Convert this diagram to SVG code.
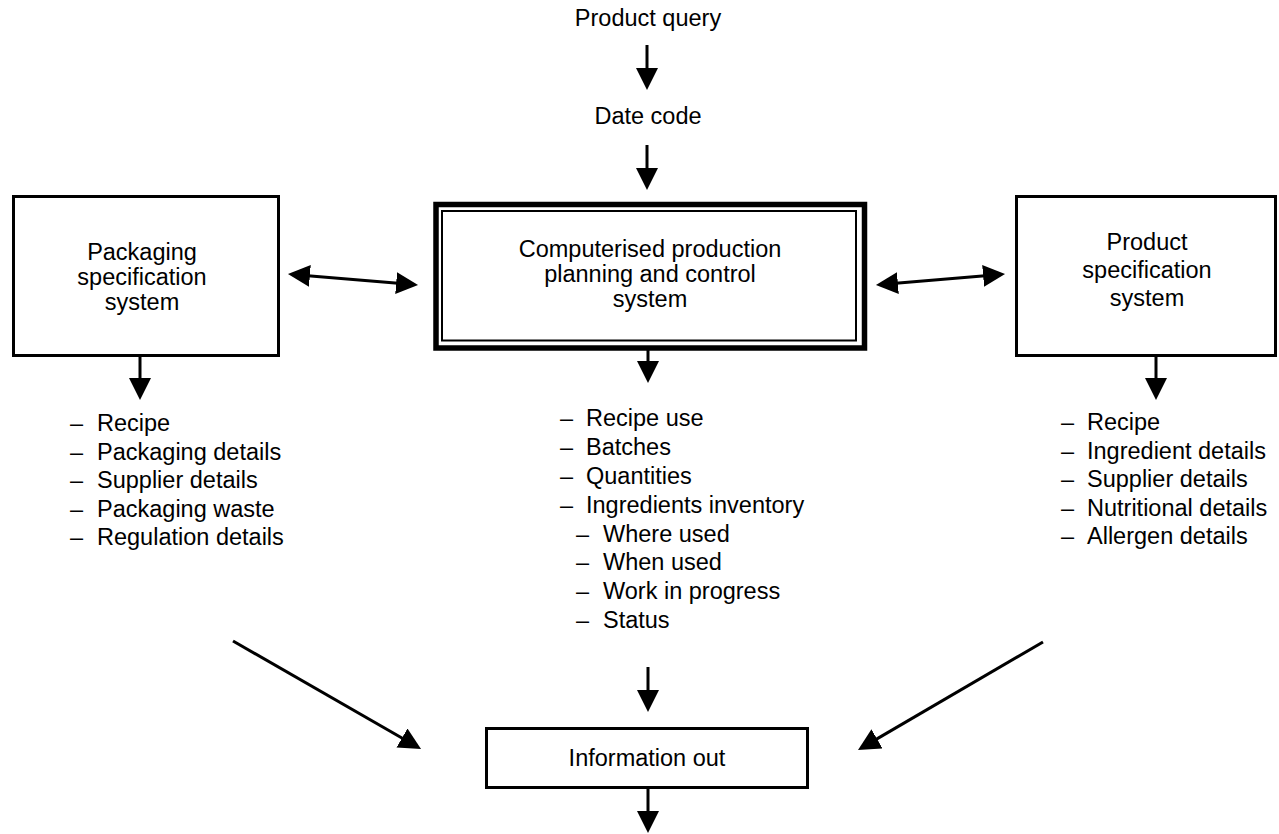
<svg xmlns="http://www.w3.org/2000/svg" width="1279" height="834" viewBox="0 0 1279 834">
  <defs>
    <marker id="head" viewBox="0 0 22 22" refX="8" refY="11" markerWidth="22" markerHeight="22" markerUnits="userSpaceOnUse" orient="auto-start-reverse">
      <path d="M0,0 L22,11 L0,22 Z" fill="#000"/>
    </marker>
    <style>
      text { font-family: "Liberation Sans", Arial, Helvetica, sans-serif; font-size: 23.5px; fill: #000; }
      .c { text-anchor: middle; }
      .box { fill: #fff; stroke: #000; stroke-width: 3; }
      .outer { fill: #fff; stroke: #000; stroke-width: 5.5; }
      .inner { fill: none; stroke: #000; stroke-width: 2; }
      .link { fill: none; stroke: #000; stroke-width: 3; marker-end: url(#head); }
      .both { marker-start: url(#head); }
    </style>
  </defs>
  <rect width="1279" height="834" fill="#fff"/>

  <!-- inputs at the top -->
  <g id="product-query">
    <text class="c" x="648" y="26">Product query</text>
  </g>
  <g id="date-code">
    <text class="c" x="648" y="124">Date code</text>
  </g>

  <!-- central system -->
  <g id="production-control">
    <rect class="outer" x="436" y="204.5" width="428.5" height="143.5"/>
    <rect class="inner" x="442" y="211" width="414" height="129.5"/>
    <text class="c" x="650" y="257">Computerised production</text>
    <text class="c" x="650" y="282">planning and control</text>
    <text class="c" x="650" y="307">system</text>
  </g>

  <g id="packaging-spec">
    <rect class="box" x="13.5" y="196.5" width="265" height="159"/>
    <text class="c" x="142" y="260">Packaging</text>
    <text class="c" x="142" y="285">specification</text>
    <text class="c" x="142" y="310">system</text>
  </g>

  <g id="product-spec">
    <rect class="box" x="1016.5" y="196.5" width="259" height="159"/>
    <text class="c" x="1147" y="250">Product</text>
    <text class="c" x="1147" y="278">specification</text>
    <text class="c" x="1147" y="306">system</text>
  </g>

  <!-- data held by each system -->
  <g id="packaging-list">
    <text x="70" y="431">–<tspan x="97">Recipe</tspan></text>
    <text x="70" y="460">–<tspan x="97">Packaging details</tspan></text>
    <text x="70" y="488">–<tspan x="97">Supplier details</tspan></text>
    <text x="70" y="517">–<tspan x="97">Packaging waste</tspan></text>
    <text x="70" y="545">–<tspan x="97">Regulation details</tspan></text>
  </g>

  <g id="production-list">
    <text x="560" y="426">–<tspan x="586">Recipe use</tspan></text>
    <text x="560" y="455">–<tspan x="586">Batches</tspan></text>
    <text x="560" y="484">–<tspan x="586">Quantities</tspan></text>
    <text x="560" y="513">–<tspan x="586">Ingredients inventory</tspan></text>
    <text x="576" y="542">–<tspan x="603">Where used</tspan></text>
    <text x="576" y="570">–<tspan x="603">When used</tspan></text>
    <text x="576" y="599">–<tspan x="603">Work in progress</tspan></text>
    <text x="576" y="628">–<tspan x="603">Status</tspan></text>
  </g>

  <g id="product-list">
    <text x="1061" y="430">–<tspan x="1087">Recipe</tspan></text>
    <text x="1061" y="459">–<tspan x="1087">Ingredient details</tspan></text>
    <text x="1061" y="487">–<tspan x="1087">Supplier details</tspan></text>
    <text x="1061" y="516">–<tspan x="1087">Nutritional details</tspan></text>
    <text x="1061" y="544">–<tspan x="1087">Allergen details</tspan></text>
  </g>

  <!-- output -->
  <g id="information-out">
    <rect class="box" x="486.5" y="728.5" width="321" height="59"/>
    <text class="c" x="647" y="766">Information out</text>
  </g>

  <!-- connectors -->
  <g id="connectors">
    <line class="link" x1="647" y1="45" x2="647" y2="76"/>
    <line class="link" x1="647" y1="145" x2="647" y2="176"/>
    <line class="link" x1="140" y1="357" x2="140" y2="386"/>
    <line class="link" x1="648" y1="350" x2="648" y2="369"/>
    <line class="link" x1="1156" y1="357" x2="1156" y2="386"/>
    <line class="link" x1="648" y1="667" x2="648" y2="698"/>
    <line class="link" x1="648" y1="789" x2="648" y2="819"/>
    <line class="link both" x1="301.9" y1="275.2" x2="404.1" y2="283.8"/>
    <line class="link both" x1="889.9" y1="283.8" x2="991.1" y2="275.2"/>
    <line class="link" stroke-width="3.5" x1="233" y1="641" x2="408.9" y2="742"/>
    <line class="link" stroke-width="3.5" x1="1043" y1="642" x2="870.1" y2="742.9"/>
  </g>
</svg>
